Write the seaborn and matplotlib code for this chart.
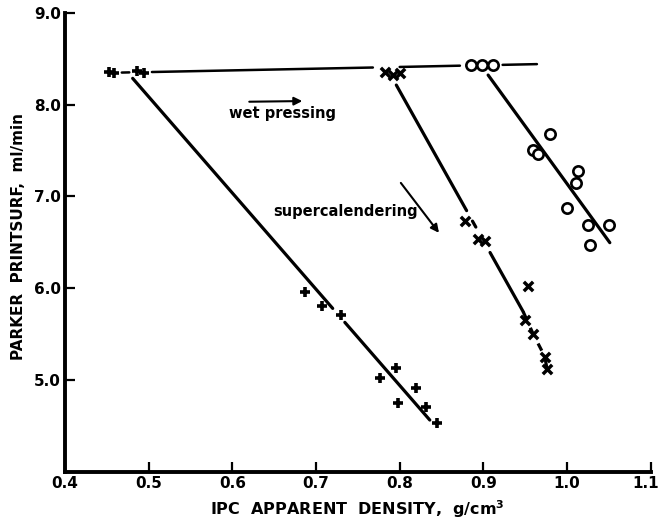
import matplotlib
matplotlib.use("Agg")
import matplotlib.pyplot as plt
import matplotlib.transforms as mtransforms
import seaborn as sns
import pandas as pd

# ---- data ----
plus_x = [0.453, 0.459, 0.486, 0.494, 0.687, 0.707, 0.730, 0.776, 0.796, 0.798, 0.819, 0.832, 0.845]
plus_y = [8.35, 8.34, 8.36, 8.34, 5.96, 5.80, 5.71, 5.02, 5.13, 4.75, 4.91, 4.70, 4.53]

cross_x = [0.782, 0.792, 0.800, 0.878, 0.894, 0.902, 0.950, 0.9535, 0.9595, 0.9735, 0.976]
cross_y = [8.35, 8.32, 8.34, 6.73, 6.54, 6.51, 5.65, 6.02, 5.50, 5.25, 5.12]

circle_x = [0.885, 0.898, 0.911, 0.959, 0.965, 0.980, 1.000, 1.0105, 1.013, 1.0245, 1.027, 1.050]
circle_y = [8.43, 8.43, 8.43, 7.50, 7.46, 7.68, 6.87, 7.15, 7.28, 6.69, 6.47, 6.69]

# fitted lines (segments as drawn, with gaps at markers)
line1_x = [[0.481, 0.720], [0.7345, 0.836]]
line1_y = [[8.285, 5.779], [5.627, 4.563]]
line2_x = [[0.796, 0.880], [0.887, 0.891], [0.908, 0.9476]]
line2_y = [[8.212, 6.844], [6.730, 6.665], [6.388, 5.743]]
tail2_x = [0.9476, 0.9595, 0.9735, 0.976]
tail2_y = [5.743, 5.500, 5.253, 5.119]
line3_x = [0.9057, 1.0511]
line3_y = [8.321, 6.495]
horiz_x = [[0.468, 0.477], [0.504, 0.768], [0.800, 0.872], [0.923, 0.964]]
horiz_y = [[8.348, 8.350], [8.354, 8.403], [8.409, 8.423], [8.432, 8.440]]

x_ticks = [0.4, 0.5, 0.6, 0.7, 0.8, 0.9, 1.0, 1.1]
x_tick_labels = ["0.4", "0.5", "0.6", "0.7", "0.8", "0.9", "1.0", "1.1"]
y_ticks = [5.0, 6.0, 7.0, 8.0, 9.0]
y_tick_labels = ["5.0", "6.0", "7.0", "8.0", "9.0"]

sns.set_style("ticks")
plt.rcParams["font.family"] = ["DejaVu Sans"]
plt.rcParams["font.weight"] = "bold"
for k in ["text.color", "axes.labelcolor", "xtick.color", "ytick.color", "axes.edgecolor"]:
    plt.rcParams[k] = "black"

fig = plt.figure(figsize=(6.62, 5.21), dpi=100)
ax = fig.add_axes([0.098, 0.0946, 0.885, 0.881])

def seg(xs, ys, lw=2.3, **kw):
    df = pd.DataFrame({"x": xs, "y": ys})
    sns.lineplot(data=df, x="x", y="y", sort=False, estimator=None, color="black",
                 linewidth=lw, ax=ax, **kw)

for xs, ys in zip(line1_x, line1_y):
    seg(xs, ys)
for xs, ys in zip(line2_x, line2_y):
    seg(xs, ys)
seg(tail2_x, tail2_y, linestyle=(0, (2.5, 3)))
seg(line3_x, line3_y)
for xs, ys in zip(horiz_x, horiz_y):
    seg(xs, ys, lw=1.8)

sns.scatterplot(x=plus_x, y=plus_y, marker="+", s=50, linewidth=2.6, color="black", ax=ax, zorder=3)
sns.scatterplot(x=cross_x, y=cross_y, marker="x", s=45, linewidth=2.5, color="black", ax=ax, zorder=3)
sns.scatterplot(x=circle_x, y=circle_y, marker="o", s=55, linewidth=1.9, facecolor="white",
                edgecolor="black", ax=ax, zorder=3)

# annotations
ax.annotate("", xy=(0.687, 8.038), xytext=(0.617, 8.030),
            arrowprops=dict(arrowstyle="-|>", color="black", lw=1.5, mutation_scale=12))
ax.text(0.660, 7.905, "wet pressing", ha="center", va="center", fontsize=10.5, fontweight="bold")
ax.annotate("", xy=(0.849, 6.578), xytext=(0.7994, 7.170),
            arrowprops=dict(arrowstyle="-|>", color="black", lw=1.5, mutation_scale=12))
ax.text(0.7355, 6.832, "supercalendering", ha="center", va="center", fontsize=10.5, fontweight="bold")

ax.set_xlim(0.4, 1.1)
ax.set_ylim(4.0, 9.0)
ax.set_xticks(x_ticks)
ax.set_xticklabels(x_tick_labels, fontsize=11, fontweight="bold")
ax.set_yticks(y_ticks)
ax.set_yticklabels(y_tick_labels, fontsize=11, fontweight="bold")
ax.tick_params(direction="in", length=7, width=1.6, pad=3, colors="black")

# keep the last x tick label inside the figure
last = ax.get_xticklabels()[-1]
last.set_horizontalalignment("right")
last.set_transform(last.get_transform() +
                   mtransforms.ScaledTranslation(8 / 100, 0, fig.dpi_scale_trans))

sns.despine(ax=ax)
for s in ["left", "bottom"]:
    ax.spines[s].set_linewidth(2.8)
    ax.spines[s].set_color("black")

ax.set_xlabel("IPC  APPARENT  DENSITY,  g/cm$^\\mathbf{3}$", fontsize=11.5, fontweight="bold")
ax.xaxis.set_label_coords(0.5, -0.0935)
ax.xaxis.label.set_verticalalignment("baseline")
ax.set_ylabel("PARKER  PRINTSURF,  ml/min", fontsize=11, fontweight="bold")
ax.yaxis.set_label_coords(-0.067, 0.512)

fig.savefig("out.png", dpi=100)
